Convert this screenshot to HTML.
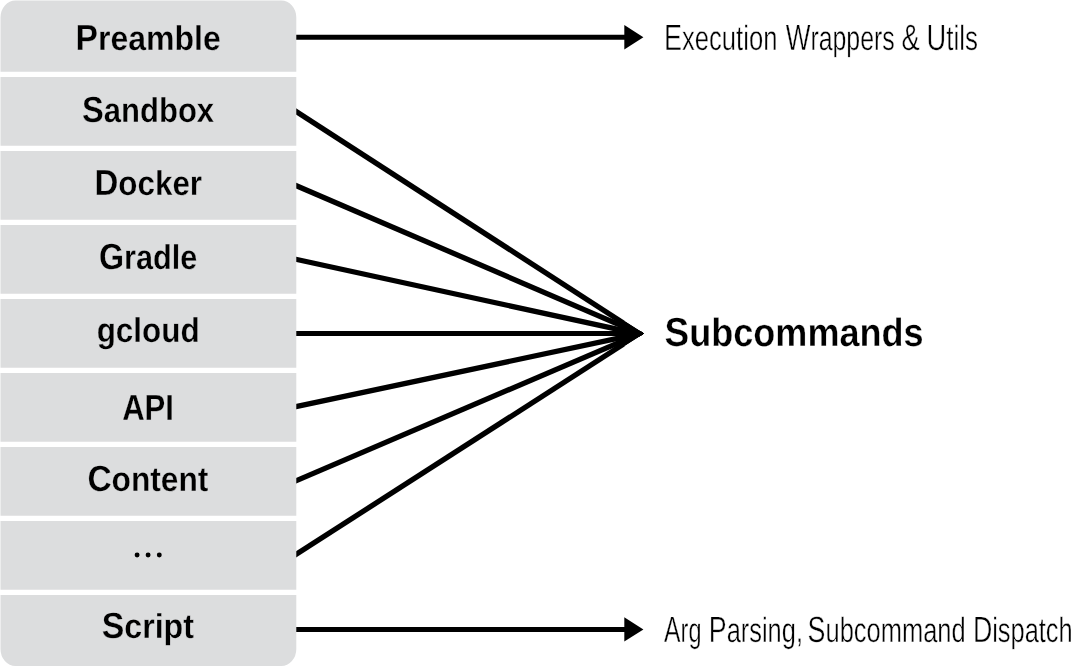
<!DOCTYPE html>
<html><head><meta charset="utf-8"><title>Diagram</title>
<style>
html,body{margin:0;padding:0;background:#fff;}
body{width:1072px;height:667px;overflow:hidden;font-family:"Liberation Sans",sans-serif;}
svg{display:block;position:absolute;left:0;top:0;will-change:transform;}
text{font-family:"Liberation Sans",sans-serif;fill:#000;}
.lb{font-weight:bold;stroke:#dcddde;stroke-width:0.3px;}
.rt{stroke:#fff;stroke-width:0.45px;}
.sub{font-weight:bold;stroke:#fff;stroke-width:0.3px;}
</style></head><body>
<svg width="1072" height="667" viewBox="0 0 1072 667">
<defs><clipPath id="fc"><polygon points="280,0 624.8,0 624.8,321.3 644.1,333.55 624.8,345.8 624.8,667 280,667"/></clipPath></defs>
<g stroke="#000" stroke-width="4.9" fill="none">
<line x1="290.0" y1="37.3" x2="626" y2="37.3"/>
<line x1="290.0" y1="629.5" x2="626" y2="629.5"/>
</g>
<g stroke="#000" stroke-width="5.3" fill="none" clip-path="url(#fc)">
<line x1="290.0" y1="107.56" x2="646.1" y2="337.72"/>
<line x1="290.0" y1="182.95" x2="646.1" y2="336.21"/>
<line x1="290.0" y1="258.01" x2="646.1" y2="335.47"/>
<line x1="290.0" y1="333.55" x2="646.1" y2="333.55" stroke-width="4.9"/>
<line x1="290.0" y1="407.96" x2="646.1" y2="332.31"/>
<line x1="290.0" y1="483.34" x2="646.1" y2="331.01"/>
<line x1="290.0" y1="558.31" x2="646.1" y2="329.60"/>
</g>
<path d="M0.5,71.85V17.4A15,17 0 0 1 15.5,0.4H281.3A15,17 0 0 1 296.3,17.4V71.85Z" fill="#dcddde"/>
<path d="M0.5,77.0H296.3V145.85H0.5Z" fill="#dcddde"/>
<path d="M0.5,151.0H296.3V219.85H0.5Z" fill="#dcddde"/>
<path d="M0.5,225.0H296.3V293.85H0.5Z" fill="#dcddde"/>
<path d="M0.5,299.0H296.3V367.85H0.5Z" fill="#dcddde"/>
<path d="M0.5,373.0H296.3V441.85H0.5Z" fill="#dcddde"/>
<path d="M0.5,447.0H296.3V515.85H0.5Z" fill="#dcddde"/>
<path d="M0.5,521.0H296.3V589.85H0.5Z" fill="#dcddde"/>
<path d="M0.5,595.0H296.3V649.0A15,17 0 0 1 281.3,666.0H15.5A15,17 0 0 1 0.5,649.0Z" fill="#dcddde"/>
<polygon points="624.3,25.1 643.4,37.3 624.3,49.4" fill="#000"/>
<polygon points="624.3,617.3 643.4,629.5 624.3,641.6" fill="#000"/>
<polygon points="624.8,321.3 644.1,333.55 624.8,345.8" fill="#000"/>
<text class="lb" transform="rotate(0.03 75.58 49.95)" x="75.58" y="49.95" textLength="145.24" lengthAdjust="spacingAndGlyphs"><tspan font-size="36.3">P</tspan><tspan font-size="34.5">reamble</tspan></text>
<text class="lb" transform="rotate(0.03 82.10 122.15)" x="82.10" y="122.15" textLength="131.99" lengthAdjust="spacingAndGlyphs"><tspan font-size="36.3">S</tspan><tspan font-size="34.5">andbox</tspan></text>
<text class="lb" transform="rotate(0.03 94.47 194.85)" x="94.47" y="194.85" textLength="107.59" lengthAdjust="spacingAndGlyphs"><tspan font-size="36.3">D</tspan><tspan font-size="34.5">ocker</tspan></text>
<text class="lb" transform="rotate(0.03 99.00 268.95)" x="99.00" y="268.95" textLength="98.23" lengthAdjust="spacingAndGlyphs"><tspan font-size="36.3">G</tspan><tspan font-size="34.5">radle</tspan></text>
<text class="lb" transform="rotate(0.03 96.70 342.25)" x="96.70" y="342.25" textLength="102.90" lengthAdjust="spacingAndGlyphs"><tspan font-size="34.5">gcloud</tspan></text>
<text class="lb" transform="rotate(0.03 122.15 420.05)" x="122.15" y="420.05" textLength="51.80" lengthAdjust="spacingAndGlyphs"><tspan font-size="36.3">API</tspan></text>
<text class="lb" transform="rotate(0.03 87.40 490.65)" x="87.40" y="490.65" textLength="121.03" lengthAdjust="spacingAndGlyphs"><tspan font-size="36.3">C</tspan><tspan font-size="34.5">ontent</tspan></text>
<text class="lb" transform="rotate(0.03 101.71 638.35)" x="101.71" y="638.35" textLength="92.25" lengthAdjust="spacingAndGlyphs"><tspan font-size="36.3">S</tspan><tspan font-size="34.5">cript</tspan></text>
<text class="rt" transform="rotate(0.03 664.06 49.85)" x="664.06" y="49.85" textLength="113.33" lengthAdjust="spacingAndGlyphs"><tspan font-size="36.5">E</tspan><tspan font-size="34.7">xecution</tspan></text>
<text class="rt" transform="rotate(0.03 785.71 49.85)" x="785.71" y="49.85" textLength="108.99" lengthAdjust="spacingAndGlyphs"><tspan font-size="36.5">W</tspan><tspan font-size="34.7">rappers</tspan></text>
<text class="rt" transform="rotate(0.03 901.45 49.85)" x="901.45" y="49.85" textLength="18.25" lengthAdjust="spacingAndGlyphs"><tspan font-size="36.5">&amp;</tspan></text>
<text class="rt" transform="rotate(0.03 926.58 49.85)" x="926.58" y="49.85" textLength="51.39" lengthAdjust="spacingAndGlyphs"><tspan font-size="36.5">U</tspan><tspan font-size="34.7">tils</tspan></text>
<text class="rt" transform="rotate(0.03 664.09 641.54)" x="664.09" y="641.54" textLength="37.36" lengthAdjust="spacingAndGlyphs"><tspan font-size="36.5">A</tspan><tspan font-size="34.7">rg</tspan></text>
<text class="rt" transform="rotate(0.03 708.82 641.54)" x="708.82" y="641.54" textLength="94.16" lengthAdjust="spacingAndGlyphs"><tspan font-size="36.5">P</tspan><tspan font-size="34.7">arsing,</tspan></text>
<text class="rt" transform="rotate(0.03 807.57 641.54)" x="807.57" y="641.54" textLength="158.12" lengthAdjust="spacingAndGlyphs"><tspan font-size="36.5">S</tspan><tspan font-size="34.7">ubcommand</tspan></text>
<text class="rt" transform="rotate(0.03 972.88 641.54)" x="972.88" y="641.54" textLength="99.84" lengthAdjust="spacingAndGlyphs"><tspan font-size="36.5">D</tspan><tspan font-size="34.7">ispatch</tspan></text>
<text class="sub" transform="rotate(0.03 664.60 346.17)" x="664.60" y="346.17" textLength="258.98" lengthAdjust="spacingAndGlyphs"><tspan font-size="40.5">S</tspan><tspan font-size="39.5">ubcommands</tspan></text>
<circle cx="137.1" cy="555.0" r="2.45" fill="#000"/>
<circle cx="148.1" cy="555.0" r="2.45" fill="#000"/>
<circle cx="159.3" cy="555.0" r="2.45" fill="#000"/>
</svg>
</body></html>
